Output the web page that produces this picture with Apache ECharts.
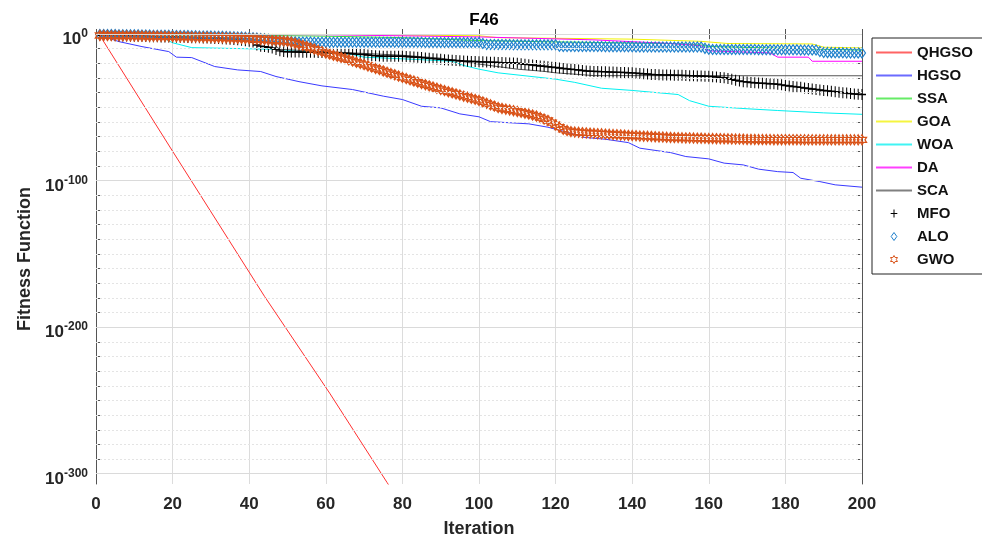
<!DOCTYPE html>
<html>
<head>
<meta charset="utf-8">
<title>F46</title>
<script src="https://cdn.jsdelivr.net/npm/echarts@6/dist/echarts.min.js"></script>
<style>
  html, body { margin: 0; padding: 0; background: #fff; }
  #chart { width: 982px; height: 547px; }
</style>
</head>
<body>
<div id="chart"></div>
<script>
// values are log10(fitness)
var names = ['QHGSO', 'HGSO', 'SSA', 'GOA', 'WOA', 'DA', 'SCA', 'MFO', 'ALO', 'GWO'];
var xTicks = [0, 20, 40, 60, 80, 100, 120, 140, 160, 180, 200];
var yMajor = [0, -100, -200, -300];

// line series: [iteration, exponent]
var qhgso = [[1, -1], [20, -80], [44, -179], [61, -245], [76, -306], [80, -322]];
var hgso = [[1, -0.8], [6, -5.2], [12, -8.6], [19, -12], [21, -15.8], [25, -16.1], [31, -22.2], [37, -24.5],
  [43, -25.6], [47, -29], [53, -32.5], [59, -35.4], [67, -37.9], [75, -42.4], [80, -44.7], [85, -49.3],
  [90, -50.4], [95, -54.5], [100, -56.5], [103, -59.8], [113, -61.3], [118, -63.6], [124, -67.7],
  [127, -70.4], [133, -71.8], [139, -74.1], [142, -77.9], [150, -80.9], [154, -83.6], [160, -85.2],
  [164, -88.1], [169, -89.3], [173, -92.2], [178, -93.9], [182, -94.5], [184, -98.4], [189, -100.7],
  [193, -102.9], [200, -104.5]];
var ssa = [[1, -0.3], [40, -0.8], [60, -1.5], [80, -2.5], [100, -4.5], [120, -5.4], [150, -6.5],
  [158, -7.5], [160, -8.5], [180, -9.8], [200, -11]];
var goa = [[1, 0], [60, -0.3], [100, -1.2], [105, -2.5], [140, -3.5], [158, -5], [165, -6.5],
  [187, -6.8], [190, -9], [200, -9.5]];
var woa = [[1, -0.5], [17, -2], [20, -6], [25, -9.3], [48, -10.5], [52, -11.7], [60, -12.8], [67, -14],
  [70, -15.8], [84, -17.4], [93, -18.6], [96, -21.5], [100, -24], [105, -26.5], [120, -30.8],
  [125, -33], [132, -37], [140, -38.5], [152, -41.3], [155, -45.5], [160, -49.3], [170, -51],
  [178, -52.2], [190, -53.8], [200, -54.8]];
var da = [[1, -0.2], [60, -0.5], [100, -2], [130, -4], [150, -6.5], [158, -8], [160, -11.5],
  [176, -12.9], [178, -15.8], [186, -15.8], [187, -18.6], [200, -18.6]];
var sca = [[1, -0.5], [40, -3], [46, -6], [48, -10.5], [60, -12], [80, -14.5], [90, -16.5],
  [100, -20.5], [110, -24], [117, -25.5], [120, -26.5], [126, -27.6], [130, -28.4], [200, -28.5]];

// marker series: one value per iteration 1..200
var mfo = [
  -0.8, -0.9, -1.0, -1.1, -1.2, -1.3, -1.3, -1.4, -1.5, -1.5,
  -1.6, -1.6, -1.7, -1.8, -1.8, -1.9, -2.0, -2.0, -2.1, -2.1,
  -2.2, -2.3, -2.3, -2.4, -2.5, -2.6, -2.6, -2.7, -2.8, -2.9,
  -3.0, -3.1, -3.3, -3.4, -3.6, -3.8, -4.0, -4.3, -4.6, -5.0,
  -5.5, -7.5, -8.3, -8.6, -9.0, -9.5, -10.5, -11.5, -12.0, -12.2,
  -12.2, -12.3, -12.3, -12.4, -12.4, -12.5, -12.5, -12.6, -12.6, -12.7,
  -12.8, -12.9, -13.0, -13.1, -13.2, -13.3, -13.5, -13.7, -13.9, -14.0,
  -14.3, -14.6, -14.8, -15.0, -15.2, -15.2, -15.2, -15.2, -15.2, -15.2,
  -15.3, -15.5, -15.7, -15.9, -16.1, -16.3, -16.6, -16.8, -17.0, -17.3,
  -17.5, -17.7, -17.9, -18.1, -18.3, -18.5, -18.6, -18.7, -18.8, -18.9,
  -19.0, -19.1, -19.2, -19.3, -19.4, -19.5, -19.6, -19.7, -19.8, -20.0,
  -20.3, -20.6, -20.9, -21.2, -21.5, -21.8, -22.0, -22.3, -22.6, -22.9,
  -23.2, -23.5, -23.8, -24.1, -24.3, -24.6, -24.9, -25.2, -25.4, -25.5,
  -25.6, -25.7, -25.8, -25.9, -26.0, -26.1, -26.2, -26.3, -26.4, -26.5,
  -26.7, -26.9, -27.1, -27.3, -27.6, -27.7, -27.8, -27.9, -28.0, -28.0,
  -28.1, -28.1, -28.2, -28.3, -28.4, -28.5, -28.6, -28.7, -28.8, -28.9,
  -29.1, -29.3, -29.6, -29.9, -30.4, -30.9, -31.5, -32.1, -32.5, -32.8,
  -33.1, -33.3, -33.5, -33.6, -33.8, -33.9, -34.0, -34.3, -34.7, -35.1,
  -35.5, -35.8, -36.1, -36.4, -36.8, -37.2, -37.5, -37.8, -38.2, -38.5,
  -38.8, -39.1, -39.4, -39.7, -40.0, -40.3, -40.6, -40.9, -41.1, -41.3
];
var alo = [
  -0.3, -0.3, -0.4, -0.4, -0.4, -0.5, -0.5, -0.5, -0.6, -0.6,
  -0.6, -0.7, -0.7, -0.7, -0.8, -0.8, -0.8, -0.9, -0.9, -1.0,
  -1.0, -1.0, -1.1, -1.1, -1.2, -1.2, -1.3, -1.3, -1.4, -1.4,
  -1.5, -1.5, -1.6, -1.7, -1.8, -1.9, -2.0, -2.1, -2.2, -2.4,
  -2.6, -2.8, -3.0, -3.3, -3.6, -3.9, -4.2, -4.5, -4.8, -5.0,
  -5.2, -5.3, -5.4, -5.5, -5.5, -5.5, -5.6, -5.6, -5.6, -5.6,
  -5.6, -5.6, -5.6, -5.6, -5.6, -5.6, -5.6, -5.6, -5.7, -5.7,
  -5.7, -5.7, -5.7, -5.7, -5.7, -5.7, -5.7, -5.7, -5.7, -5.7,
  -5.7, -5.7, -5.7, -5.7, -5.7, -5.8, -5.8, -5.8, -5.8, -5.8,
  -5.8, -5.8, -5.8, -5.8, -5.8, -5.8, -5.8, -5.8, -5.8, -5.8,
  -6.5, -7.2, -7.2, -7.2, -7.2, -7.2, -7.2, -7.2, -7.3, -7.3,
  -7.3, -7.3, -7.3, -7.3, -7.3, -7.3, -7.4, -7.4, -7.4, -7.4,
  -8.3, -8.5, -8.5, -8.5, -8.5, -8.5, -8.6, -8.6, -8.6, -8.6,
  -8.6, -8.6, -8.7, -8.7, -8.7, -8.7, -8.7, -8.7, -8.7, -8.7,
  -8.8, -8.8, -8.8, -8.8, -8.8, -8.8, -8.8, -8.8, -8.8, -8.8,
  -8.8, -8.8, -8.9, -8.9, -8.9, -8.9, -8.9, -8.9, -9.8, -10.4,
  -10.5, -10.5, -10.5, -10.5, -10.5, -10.6, -10.6, -10.6, -10.6, -10.6,
  -10.6, -10.6, -10.7, -10.7, -10.7, -10.7, -10.7, -10.8, -10.8, -10.8,
  -10.8, -10.8, -10.8, -10.9, -10.9, -10.9, -10.9, -10.9, -12.0, -12.6,
  -12.7, -12.7, -12.8, -12.8, -12.8, -12.9, -12.9, -12.9, -13.0, -13.0
];
var gwo = [
  -1.0, -1.0, -1.1, -1.1, -1.1, -1.2, -1.2, -1.2, -1.3, -1.3,
  -1.3, -1.4, -1.4, -1.5, -1.5, -1.5, -1.6, -1.6, -1.7, -1.8,
  -1.8, -1.9, -1.9, -2.0, -2.0, -2.1, -2.1, -2.2, -2.2, -2.3,
  -2.4, -2.4, -2.5, -2.6, -2.7, -2.8, -2.9, -3.0, -3.1, -3.2,
  -3.4, -3.5, -3.7, -3.8, -4.0, -4.2, -4.4, -4.6, -4.8, -5.0,
  -5.5, -6.2, -7.0, -7.8, -8.5, -9.4, -10.3, -11.2, -12.0, -12.9,
  -13.7, -14.5, -15.2, -16.0, -16.8, -17.6, -18.4, -19.3, -20.1, -20.9,
  -21.8, -22.6, -23.5, -24.3, -25.2, -26.1, -27.0, -27.8, -28.7, -29.6,
  -30.4, -31.3, -32.1, -32.9, -33.8, -34.6, -35.4, -36.2, -37.0, -37.8,
  -38.6, -39.4, -40.1, -40.9, -41.6, -42.4, -43.1, -43.9, -44.6, -45.3,
  -46.3, -47.3, -48.3, -49.2, -50.2, -50.8, -51.3, -51.8, -52.3, -52.8,
  -53.4, -54.0, -54.6, -55.3, -56.0, -57.0, -58.0, -59.0, -60.5, -62.0,
  -63.5, -65.0, -65.9, -66.6, -66.9, -67.1, -67.3, -67.5, -67.7, -67.8,
  -68.0, -68.1, -68.3, -68.4, -68.6, -68.7, -68.9, -69.0, -69.2, -69.3,
  -69.4, -69.6, -69.7, -69.8, -69.9, -70.1, -70.2, -70.3, -70.5, -70.6,
  -70.7, -70.7, -70.8, -70.9, -70.9, -71.0, -71.1, -71.1, -71.2, -71.3,
  -71.3, -71.4, -71.4, -71.5, -71.5, -71.6, -71.7, -71.7, -71.8, -71.9,
  -71.9, -71.9, -72.0, -72.0, -72.0, -72.0, -72.1, -72.1, -72.1, -72.1,
  -72.1, -72.1, -72.1, -72.2, -72.2, -72.2, -72.2, -72.2, -72.2, -72.2,
  -72.2, -72.2, -72.2, -72.2, -72.2, -72.2, -72.2, -72.2, -72.2, -72.2
];

var font = 'Liberation Sans, Arial, Helvetica, sans-serif';
var yMin = -307, yMax = 0;

var linePath = 'path://M0,0H36V2H0Z';   // legend sample for plain lines
var plusPath = 'path://M5,0V12M0,6H10';
var diamondPath = 'path://M5,0L10,7L5,14L0,7Z';
var hexPath = 'path://M10,0L12.89,5L18.66,5L15.77,10L18.66,15L12.89,15L10,20L7.11,15L1.34,15L4.23,10L1.34,5L7.11,5Z';

var lineColors = {
  QHGSO: '#ff3030', HGSO: '#3a3aff', SSA: '#33e633', GOA: '#f2f200',
  WOA: '#00f0f0', DA: '#ff00ff', SCA: '#555555'
};

function pairs(arr) {   // iteration number for each marker value
  return arr.map(function (v, i) { return [i + 1, v]; });
}

// minor grid every 10 decades
var minorVals = [];
for (var e = 0; e >= -300; e -= 10) minorVals.push(e);

var gridLines = minorVals.map(function (v) {
  var major = yMajor.indexOf(v) >= 0;
  return {
    yAxis: v,
    lineStyle: major ? { color: '#dadada', type: 'solid', width: 1 }
                     : { color: '#e4e4e4', type: [2, 2], width: 1 }
  };
});

function lineSeries(name, data) {
  var color = lineColors[name];
  return {
    name: name, type: 'line', data: data, symbol: 'none',
    lineStyle: { color: color, width: 1 }, itemStyle: { color: color, borderColor: color },
    z: 3, silent: true
  };
}
function markerSeries(name, data, path, size, color, bw) {
  return {
    name: name, type: 'scatter', data: pairs(data), symbol: path, symbolSize: size,
    itemStyle: { color: 'none', borderColor: color, borderWidth: bw, opacity: 1 },
    z: 4, silent: true
  };
}

var legendData = names.slice(0, 7).map(function (n) {
  var c = lineColors[n];
  return {
    name: n, icon: linePath,
    itemStyle: { color: c, borderColor: c, borderWidth: 0, opacity: 0.75 },
    lineStyle: { color: c, width: 0 }
  };
});
legendData.push(
  { name: 'MFO', icon: plusPath, itemStyle: { color: 'none', borderColor: '#000', borderWidth: 1 } },
  { name: 'ALO', icon: diamondPath, itemStyle: { color: 'none', borderColor: '#1f80cc', borderWidth: 1 } },
  { name: 'GWO', icon: hexPath, itemStyle: { color: 'none', borderColor: '#D95319', borderWidth: 1 } }
);

var myChart = echarts.init(document.getElementById('chart'));
var option = {
  animation: false,
  backgroundColor: '#fff',
  title: {
    text: 'F46', left: 479, top: 7, textAlign: 'center',
    textStyle: { fontFamily: font, fontSize: 17, fontWeight: 'bold', color: '#000' }
  },
  grid: { left: 96, right: 120, top: 34, bottom: 63 },
  legend: {
    orient: 'vertical', left: 872, top: 38,
    padding: [3, 14, 3, 4], itemGap: 0, itemWidth: 36, itemHeight: 8,
    borderColor: '#222', borderWidth: 1, backgroundColor: '#fff',
    textStyle: { fontFamily: font, fontSize: 15, fontWeight: 'bold', color: '#111', lineHeight: 23 },
    data: legendData
  },
  xAxis: [{
    type: 'value', min: 0, max: 200, interval: 20,
    name: 'Iteration', nameLocation: 'middle', nameGap: 36,
    nameTextStyle: { fontFamily: font, fontSize: 18, fontWeight: 'bold', color: '#262626' },
    axisLine: { lineStyle: { color: '#555', width: 1 } },
    axisTick: { inside: true, length: 5, lineStyle: { color: '#555' } },
    axisLabel: { fontFamily: font, fontSize: 17, fontWeight: 'bold', color: '#262626', margin: 12 },
    splitLine: { show: true, lineStyle: { color: '#dcdcdc', width: 1 } }
  }, {
    type: 'value', min: 0, max: 200, interval: 20, position: 'top',
    axisLine: { lineStyle: { color: '#555', width: 1 } },
    axisTick: { inside: true, length: 5, lineStyle: { color: '#555' } },
    axisLabel: { show: false }, splitLine: { show: false }
  }],
  yAxis: [{
    type: 'value', min: yMin, max: yMax,
    name: 'Fitness Function', nameLocation: 'middle', nameGap: 60,
    nameTextStyle: { fontFamily: font, fontSize: 18, fontWeight: 'bold', color: '#262626' },
    axisLine: { show: true, lineStyle: { color: '#555', width: 1 } },
    axisTick: { inside: true, length: 7, customValues: yMajor, lineStyle: { color: '#555' } },
    axisLabel: {
      customValues: yMajor, margin: 8, padding: [8, 0, 0, 0],
      formatter: function (v) { return '{b|10}{s|' + v + '}'; },
      rich: {
        b: { fontFamily: font, fontSize: 17, fontWeight: 'bold', color: '#262626', lineHeight: 20, verticalAlign: 'bottom' },
        s: { fontFamily: font, fontSize: 12, fontWeight: 'bold', color: '#262626', lineHeight: 20, verticalAlign: 'top', padding: [0, 0, 4, 0] }
      }
    },
    splitLine: { show: false }
  }, {
    type: 'value', min: yMin, max: yMax, position: 'left',
    axisLine: { show: false },
    axisTick: { inside: true, length: 4, customValues: minorVals, lineStyle: { color: '#555' } },
    axisLabel: { show: false }, splitLine: { show: false }
  }, {
    type: 'value', min: yMin, max: yMax, position: 'right',
    axisLine: { show: true, lineStyle: { color: '#555', width: 1 } },
    axisTick: { inside: true, length: 4, customValues: minorVals, lineStyle: { color: '#555' } },
    axisLabel: { show: false }, splitLine: { show: false }
  }],
  series: [
    {   // grid lines
      name: 'grid', type: 'line', data: [], z: 1, silent: true,
      markLine: { silent: true, symbol: 'none', label: { show: false }, data: gridLines, animation: false }
    },
    lineSeries('QHGSO', qhgso),
    lineSeries('HGSO', hgso),
    lineSeries('SSA', ssa),
    lineSeries('GOA', goa),
    lineSeries('WOA', woa),
    lineSeries('DA', da),
    lineSeries('SCA', sca),
    markerSeries('MFO', mfo, plusPath, [8, 11], '#000', 1.2),
    markerSeries('ALO', alo, diamondPath, [7, 10], '#1f80cc', 1.2),
    markerSeries('GWO', gwo, hexPath, [9, 10], '#D95319', 1.3)
  ]
};
myChart.setOption(option);
</script>
</body>
</html>
